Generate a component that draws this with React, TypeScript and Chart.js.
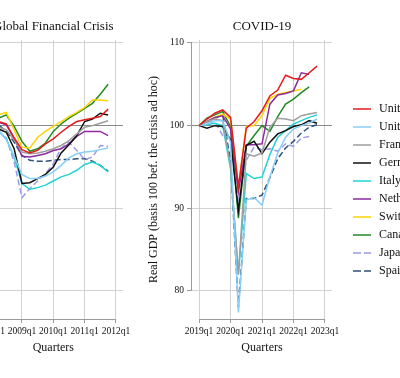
import React, { useEffect, useRef } from 'react';
import { Chart, registerables } from 'chart.js';

Chart.register(...registerables);

const SERIF = '"Liberation Serif", "Times New Roman", Times, serif';
Chart.defaults.font.family = SERIF;

// ---------- data ----------
const gfcQuarters = ['2008q1', '2008q2', '2008q3', '2008q4', '2009q1', '2009q2', '2009q3', '2009q4', '2010q1', '2010q2', '2010q3', '2010q4', '2011q1', '2011q2', '2011q3', '2011q4'];
const covidQuarters = ['2019q1', '2019q2', '2019q3', '2019q4', '2020q1', '2020q2', '2020q3', '2020q4', '2021q1', '2021q2', '2021q3', '2021q4', '2022q1', '2022q2', '2022q3', '2022q4'];
const gfcTickLabels = ['2008q1', '2009q1', '2010q1', '2011q1', '2012q1'];
const covidTickLabels = ['2019q1', '2020q1', '2021q1', '2022q1', '2023q1'];
const yTickValues = [80, 90, 100, 110];

const countries = ['United States', 'United Kingdom', 'France', 'Germany', 'Italy', 'Netherlands', 'Switzerland', 'Canada', 'Japan', 'Spain'];

// Global Financial Crisis (2008q1 = 100)
const gfcUS = [100, 100.5, 100.2, 98.5, 97.1, 96.7, 97.0, 97.8, 98.4, 99.2, 99.9, 100.5, 100.7, 100.9, 101.1, 102.0];
const gfcUK = [100, 99.4, 98.3, 96.3, 94.1, 93.6, 93.6, 93.9, 94.4, 95.2, 96.1, 96.6, 96.8, 96.9, 97.1, 97.3];
const gfcFR = [100, 99.8, 99.5, 98.3, 96.8, 96.6, 96.7, 96.9, 97.2, 97.6, 98.2, 99.0, 99.8, 100.0, 100.3, 100.6];
const gfcDE = [100, 99.6, 99.2, 97.2, 93.0, 93.1, 93.6, 94.1, 95.0, 96.7, 97.7, 98.8, 100.5, 100.8, 101.5, 101.3];
const gfcIT = [100, 99.4, 98.4, 96.2, 93.0, 92.3, 92.5, 92.8, 93.3, 93.8, 94.1, 94.6, 95.3, 95.6, 95.2, 94.4];
const gfcNL = [100, 100.4, 100.1, 98.5, 96.3, 96.2, 96.4, 96.6, 97.0, 97.2, 97.8, 98.7, 99.3, 99.3, 99.3, 98.8];
const gfcCH = [100, 101.3, 101.6, 99.5, 97.4, 97.3, 98.6, 99.3, 99.9, 100.5, 101.1, 101.6, 102.2, 103.1, 103.1, 103.0];
const gfcCA = [100, 100.9, 101.3, 99.9, 98.1, 96.9, 97.2, 97.9, 99.3, 100.2, 100.9, 101.5, 102.1, 102.7, 103.8, 105.0];
const gfcJP = [100, 99.3, 98.5, 95.6, 91.3, 92.4, 93.3, 94.2, 95.4, 97.3, 98.0, 97.0, 95.9, 96.2, 97.6, 97.5];
const gfcES = [100, 100.1, 99.3, 98.0, 96.4, 95.8, 95.7, 95.7, 95.8, 95.9, 95.9, 96.0, 96.0, 95.7, 95.2, 94.5];

// COVID-19 (2019q1 = 100)
const covidUS = [100, 100.8, 101.5, 101.9, 101.0, 92.6, 99.7, 100.5, 101.8, 103.6, 104.3, 106.1, 105.7, 105.6, 106.4, 107.2];
const covidUK = [100, 100.2, 100.6, 100.6, 98.0, 77.4, 91.0, 91.3, 90.4, 93.8, 96.7, 98.6, 99.6, 100.0, 100.3, 100.8];
const covidFR = [100, 100.5, 100.8, 100.6, 95.2, 82.0, 96.6, 96.3, 96.7, 99.8, 100.9, 100.8, 100.6, 101.2, 101.4, 101.6];
const covidDE = [100, 99.7, 100.0, 99.9, 98.3, 89.7, 97.6, 98.1, 96.6, 98.0, 99.0, 99.4, 99.9, 100.1, 100.6, 100.3];
const covidIT = [100, 100.1, 100.3, 100.0, 94.8, 82.0, 94.2, 93.6, 93.8, 96.5, 98.6, 99.4, 100.2, 100.6, 101.0, 101.3];
const covidNL = [100, 100.5, 101.0, 101.2, 99.6, 92.0, 97.7, 97.7, 97.8, 102.6, 103.7, 103.9, 104.2, 106.4, 106.2, null];
const covidCH = [100, 100.5, 101.0, 101.4, 100.8, 92.7, 99.9, 100.0, 101.2, 103.3, 103.8, 104.0, 104.2, 104.4, null, null];
const covidCA = [100, 100.9, 101.3, 101.7, 99.9, 88.8, 97.5, 98.8, 100.0, 99.3, 101.1, 102.6, 103.2, 104.0, 104.7, null];
const covidJP = [100, 100.4, 100.5, 98.8, 98.5, 91.0, 95.8, 97.4, 97.1, 97.2, 96.9, 97.8, 97.5, 98.5, 98.7, null];
const covidES = [100, 100.5, 100.9, 101.3, 95.8, 78.0, 91.2, 91.2, 91.6, 93.7, 96.0, 97.3, 98.1, 99.1, 99.8, 100.1];

const gfcSeries = [gfcUS, gfcUK, gfcFR, gfcDE, gfcIT, gfcNL, gfcCH, gfcCA, gfcJP, gfcES];
const covidSeries = [covidUS, covidUK, covidFR, covidDE, covidIT, covidNL, covidCH, covidCA, covidJP, covidES];

// ---------- styles ----------
const countryColors = ['#e41a1c', '#87cefa', '#9e9e9e', '#111111', '#22d3d3', '#8e2a9e', '#ffd400', '#228b22', '#9c9ce6', '#2f5177'];
const countryDashes: number[][] = [[], [], [], [], [], [], [], [], [6, 3], [6, 3]];
const legendDashes: number[][] = [[], [], [], [], [], [], [], [], [8, 3], [8, 3]];
const AXIS_COLOR = '#9a9a9a';
const GRID_COLOR = '#d2d2d2';
const REF_COLOR = '#8a8a8a';
const TEXT_COLOR = '#111';
const SWATCH_W = 35;

function makeSwatch(color: string, dash: number[]) {
  const c = document.createElement('canvas');
  c.width = SWATCH_W;
  c.height = 4;
  const g = c.getContext('2d')!;
  g.strokeStyle = color;
  g.lineWidth = 1.5;
  g.setLineDash(dash);
  g.beginPath();
  g.moveTo(15, 2);
  g.lineTo(33, 2);
  g.stroke();
  return c;
}

const stataAxes = {
  id: 'stataAxes',
  afterDraw(chart: any) {
    const { ctx, chartArea, scales } = chart;
    const x = scales.x;
    const y = scales.y;
    ctx.save();
    ctx.strokeStyle = AXIS_COLOR;
    ctx.lineWidth = 1;
    ctx.beginPath();
    const xt = x.ticks;
    const yb = Math.round(chartArea.bottom) + 0.5;
    ctx.moveTo(x.getPixelForValue(xt[0].value), yb);
    ctx.lineTo(x.getPixelForValue(xt[xt.length - 1].value), yb);
    const yt = y.ticks;
    const xl = Math.round(chartArea.left) - 0.5;
    ctx.moveTo(xl, y.getPixelForValue(yt[0].value));
    ctx.lineTo(xl, y.getPixelForValue(yt[yt.length - 1].value));
    ctx.stroke();
    ctx.restore();
  },
};

function buildDatasets(series: (number | null)[][], swatches: HTMLCanvasElement[]) {
  return series.map((vals, k) => ({
    label: countries[k],
    data: vals.flatMap((v, i) => (v == null ? [] : [{ x: i, y: v }])),
    borderColor: countryColors[k],
    backgroundColor: countryColors[k],
    borderWidth: 1.5,
    borderDash: countryDashes[k],
    pointRadius: 0,
    pointStyle: swatches[k],
    tension: 0,
    fill: false,
  }));
}

function makeConfig(
  title: string,
  series: (number | null)[][],
  tickLabels: string[],
  showLegend: boolean,
  yAxisWidth: number,
  pad: { left: number; right: number; top: number; bottom: number },
  titleTop: number,
  swatches: HTMLCanvasElement[]
): any {
  const xTickValues = tickLabels.map((_, k) => k * 4);
  return {
    type: 'line',
    data: { datasets: buildDatasets(series, swatches) },
    plugins: [stataAxes],
    options: {
      animation: false,
      responsive: false,
      events: [],
      layout: { padding: pad },
      plugins: {
        tooltip: { enabled: false },
        title: {
          display: true,
          text: title,
          fullSize: false,
          color: TEXT_COLOR,
          font: { family: SERIF, size: 13, weight: 'normal' },
          padding: { top: titleTop, bottom: 5.4 },
        },
        legend: {
          display: showLegend,
          position: 'right',
          maxWidth: 100,
          labels: {
            usePointStyle: true,
            pointStyleWidth: SWATCH_W,
            padding: 6,
            color: TEXT_COLOR,
            font: { family: SERIF, size: 12 },
          },
        },
      },
      scales: {
        x: {
          type: 'linear',
          min: -0.9,
          max: 16.9,
          afterBuildTicks: (s: any) => {
            s.ticks = xTickValues.map((v) => ({ value: v }));
          },
          afterFit: (s: any) => {
            s.height = 59;
          },
          ticks: {
            autoSkip: false,
            maxRotation: 0,
            padding: 3,
            color: TEXT_COLOR,
            font: { family: SERIF, size: 9.5 },
            callback: (_v: any, i: number) => tickLabels[i],
          },
          grid: {
            color: GRID_COLOR,
            borderDash: [1, 2],
            lineWidth: 1,
            tickLength: 4,
            tickColor: AXIS_COLOR,
          },
          border: { display: false },
          title: {
            display: true,
            text: 'Quarters',
            color: TEXT_COLOR,
            font: { family: SERIF, size: 12 },
            padding: { top: 0, bottom: 22.8 },
          },
        },
        y: {
          type: 'linear',
          min: 76.61,
          max: 110.36,
          afterBuildTicks: (s: any) => {
            s.ticks = yTickValues.map((v) => ({ value: v }));
          },
          afterFit: (s: any) => {
            s.width = yAxisWidth;
          },
          ticks: {
            padding: 3,
            color: TEXT_COLOR,
            font: { family: SERIF, size: 9.5 },
            callback: (v: any) => String(v),
          },
          grid: {
            color: (c: any) => (c.tick && c.tick.value === 100 ? REF_COLOR : GRID_COLOR),
            borderDash: (c: any) => (c.tick && c.tick.value === 100 ? [4, 3] : [1, 2]),
            lineWidth: 1,
            tickLength: 5,
            tickColor: AXIS_COLOR,
          },
          border: { display: false },
          title: {
            display: true,
            text: 'Real GDP (basis 100 bef. the crisis ad hoc)',
            color: TEXT_COLOR,
            font: { family: SERIF, size: 12 },
            padding: { top: 7, bottom: 0 },
          },
        },
      },
    },
  };
}

export default function App() {
  const leftRef = useRef<HTMLCanvasElement | null>(null);
  const rightRef = useRef<HTMLCanvasElement | null>(null);

  useEffect(() => {
    const swatches = countryColors.map((c, k) => makeSwatch(c, legendDashes[k]));
    const left = new Chart(
      leftRef.current!,
      makeConfig('Global Financial Crisis', gfcSeries, gfcTickLabels, false, 63.6,
        { left: 0, right: 20, top: 0, bottom: 0 }, 19, swatches)
    );
    const right = new Chart(
      rightRef.current!,
      makeConfig('COVID-19', covidSeries, covidTickLabels, true, 52,
        { left: 0, right: 8, top: 2, bottom: 0 }, 17, swatches)
    );
    return () => {
      left.destroy();
      right.destroy();
    };
  }, []);

  return (
    <div
      style={{
        position: 'fixed',
        left: 0,
        top: 0,
        width: 400,
        height: 378,
        overflow: 'hidden',
        background: '#fff',
      }}
    >
      <canvas
        ref={leftRef}
        width={223}
        height={378}
        style={{ position: 'absolute', left: -80, top: 0, width: 223, height: 378 }}
      />
      <canvas
        ref={rightRef}
        width={300}
        height={378}
        style={{ position: 'absolute', left: 140, top: 0, width: 300, height: 378 }}
      />
    </div>
  );
}
